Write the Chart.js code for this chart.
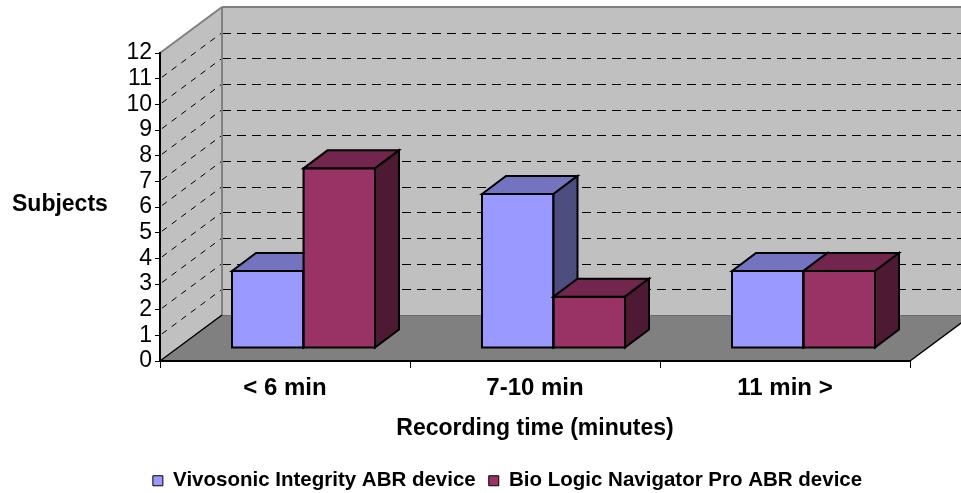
<!DOCTYPE html>
<html>
<head>
<meta charset="utf-8">
<script src="https://cdn.jsdelivr.net/npm/chart.js@4.4.1/dist/chart.umd.min.js"></script>
<style>
  html, body { margin: 0; padding: 0; background: #ffffff; }
  #wrap { width: 961px; height: 493px; position: relative; }
</style>
</head>
<body>
<div id="wrap"><canvas id="chart" width="961" height="493"></canvas></div>
<script>
// Recording time per device
const categories = ['< 6 min', '7-10 min', '11 min >'];
const vivosonic = [3, 6, 3];
const bioLogic = [7, 2, 3];
const seriesNames = ['Vivosonic Integrity ABR device', 'Bio Logic Navigator Pro ABR device'];
const yMin = 0;
const yMax = 12;
const yStep = 1;
const yTitle = 'Subjects';
const xTitle = 'Recording time (minutes)';

const FONT = '"Liberation Sans", Arial, Helvetica, sans-serif';
const WALL = { dx: 62, dy: -46 };        // depth of the plot box
const BAR_SHIFT = { dx: 18.5, dy: -13 }; // bars stand a little back on the floor
const BAR_DEPTH = { dx: 24, dy: -18 };   // thickness of each column
const faces = [
  { front: '#9999FF', top: '#7373BF', side: '#4D4D80' },
  { front: '#993366', top: '#73264D', side: '#4D1933' }
];

function poly(ctx, pts, fill, stroke, lw) {
  ctx.beginPath();
  ctx.moveTo(pts[0][0], pts[0][1]);
  for (let i = 1; i < pts.length; i++) ctx.lineTo(pts[i][0], pts[i][1]);
  ctx.closePath();
  if (fill) { ctx.fillStyle = fill; ctx.fill(); }
  if (stroke) { ctx.strokeStyle = stroke; ctx.lineWidth = lw || 1; ctx.stroke(); }
}
function seg(ctx, x1, y1, x2, y2) {
  ctx.beginPath(); ctx.moveTo(x1, y1); ctx.lineTo(x2, y2); ctx.stroke();
}

const box3d = {
  id: 'box3d',
  beforeDraw(chart) {
    const { ctx, chartArea: a, scales } = chart;
    const y = scales.y;
    const L = a.left, R = a.right, T = a.top, B = a.bottom;
    const dx = WALL.dx, dy = WALL.dy;
    ctx.save();
    ctx.fillStyle = '#ffffff';
    ctx.fillRect(0, 0, chart.width, chart.height);
    // back wall, side wall and floor
    poly(ctx, [[L + dx, T + dy], [R + dx, T + dy], [R + dx, B + dy], [L + dx, B + dy]], '#C0C0C0');
    poly(ctx, [[L, T], [L + dx, T + dy], [L + dx, B + dy], [L, B]], '#C0C0C0');
    poly(ctx, [[L, B], [L + dx, B + dy], [R + dx, B + dy], [R, B]], '#808080');

    // dashed gridlines on the walls
    ctx.strokeStyle = '#000000';
    ctx.lineWidth = 1;
    y.ticks.forEach(t => {
      if (t.value <= yMin || t.value >= yMax) return;
      const py = y.getPixelForValue(t.value);
      const by = Math.round(py + dy) + 0.5;
      ctx.setLineDash([9, 6]);
      seg(ctx, L + dx, by, R + dx, by);
      ctx.setLineDash([6, 6]);
      seg(ctx, L + 2, py - 1.5, L + dx, py + dy);
    });
    ctx.setLineDash([]);

    // wall edges
    ctx.strokeStyle = '#808080';
    ctx.lineWidth = 2;
    seg(ctx, L, T, L + dx, T + dy);
    seg(ctx, L + dx, T + dy, R + dx, T + dy);
    seg(ctx, L + dx, T + dy, L + dx, B + dy);
    ctx.lineWidth = 1;
    ctx.strokeStyle = '#6A6A6A';
    seg(ctx, L + dx, B + dy + 0.5, R + dx, B + dy + 0.5);
    ctx.strokeStyle = '#000000';
    ctx.lineWidth = 1.5;
    seg(ctx, R, B, R + dx, B + dy);
    seg(ctx, L, B, L + dx, B + dy);
    ctx.restore();
  },
  beforeDatasetsDraw(chart) {
    chart.ctx.save();
    chart.ctx.translate(BAR_SHIFT.dx, BAR_SHIFT.dy);
  },
  afterDatasetsDraw(chart) {
    const ctx = chart.ctx;
    const ddx = BAR_DEPTH.dx, ddy = BAR_DEPTH.dy;
    chart.data.datasets.forEach((ds, i) => {
      const meta = chart.getDatasetMeta(i);
      const c = faces[i];
      meta.data.forEach(bar => {
        const { x, y, base, width } = bar.getProps(['x', 'y', 'base', 'width'], true);
        const l = x - width / 2, r = x + width / 2;
        bar.draw(ctx);
        ctx.lineJoin = 'miter';
        ctx.strokeStyle = '#000000';
        ctx.lineWidth = 2;
        ctx.strokeRect(l, y, r - l, base - y);
        poly(ctx, [[l, y], [l + ddx, y + ddy], [r + ddx, y + ddy], [r, y]], c.top, '#000000', 2);
        poly(ctx, [[r, y], [r + ddx, y + ddy], [r + ddx, base + ddy], [r, base]], c.side, '#000000', 2);
      });
    });
    ctx.restore();
  },
  afterDraw(chart) {
    const ctx = chart.ctx;
    ctx.save();
    ctx.fillStyle = '#000000';
    ctx.font = 'bold 23px ' + FONT;
    ctx.textAlign = 'left';
    ctx.textBaseline = 'middle';
    ctx.fillText(yTitle, 12, 205);
    ctx.restore();
  }
};

new Chart(document.getElementById('chart'), {
  type: 'bar',
  data: {
    labels: categories,
    datasets: [
      { label: seriesNames[0], data: vivosonic, backgroundColor: faces[0].front,
        borderColor: '#000000', borderWidth: 1 },
      { label: seriesNames[1], data: bioLogic, backgroundColor: faces[1].front,
        borderColor: '#000000', borderWidth: 1 }
    ]
  },
  options: {
    responsive: false,
    animation: false,
    events: [],
    datasets: { bar: { categoryPercentage: 0.572, barPercentage: 1.0 } },
    layout: { padding: { left: 105, right: 51, top: 53, bottom: -8 } },
    plugins: {
      tooltip: { enabled: false },
      legend: {
        position: 'bottom',
        align: 'center',
        labels: {
          color: '#000000',
          font: { family: FONT, size: 20.5, weight: 'bold' },
          boxWidth: 10,
          boxHeight: 10,
          padding: 13,
          sort: (a, b) => a.datasetIndex - b.datasetIndex
        }
      }
    },
    scales: {
      x: {
        offset: true,
        grid: { display: true, drawOnChartArea: false, offset: true, tickLength: 7, color: '#000000', tickWidth: 1 },
        border: { display: true, color: '#000000', width: 2 },
        ticks: { color: '#000000', padding: 6, font: { family: FONT, size: 24, weight: 'bold' }, maxRotation: 0 },
        title: { display: true, text: xTitle, color: '#000000',
                 font: { family: FONT, size: 23, weight: 'bold' }, padding: { top: 0, bottom: 15 } },
        afterFit(scale) { scale.height = 96.5; }
      },
      y: {
        min: yMin,
        max: yMax,
        grid: { display: true, drawOnChartArea: false, tickLength: 5, color: '#000000', tickWidth: 1 },
        border: { display: true, color: '#000000', width: 2 },
        ticks: { stepSize: yStep, autoSkip: false, color: '#000000', padding: 3, font: { family: FONT, size: 23 } },
        afterFit(scale) { scale.width = 55; }
      }
    }
  },
  plugins: [box3d]
});
</script>
</body>
</html>
